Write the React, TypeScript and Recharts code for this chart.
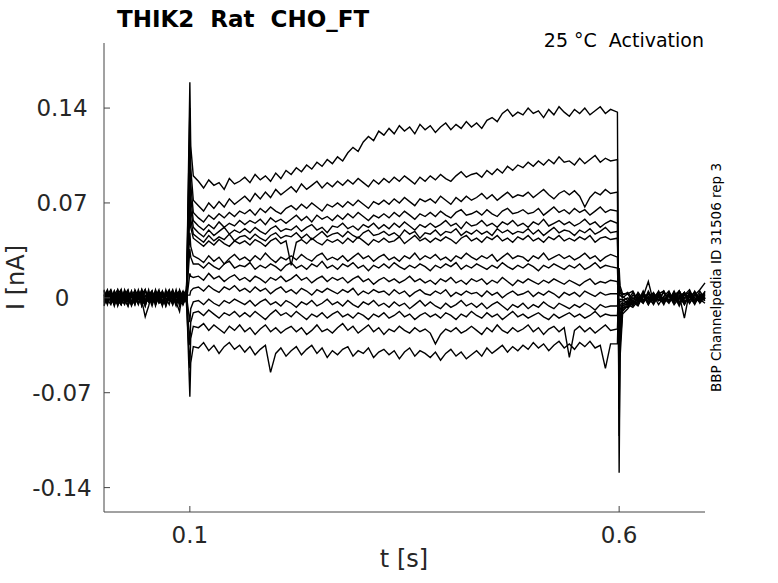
import { LineChart, Line, XAxis, YAxis } from 'recharts';

// sample times [s]
const timeS = [
  0, 0.004, 0.008, 0.012, 0.016, 0.02, 0.024, 0.028, 0.032, 0.036, 0.04, 0.044, 0.048,
  0.052, 0.056, 0.06, 0.064, 0.068, 0.072, 0.076, 0.08, 0.084, 0.088, 0.092, 0.096,
  0.1, 0.101, 0.104,
  0.11, 0.116, 0.122, 0.128, 0.134, 0.14, 0.146, 0.152, 0.158,
  0.164, 0.17, 0.176, 0.182, 0.188, 0.194, 0.2, 0.206, 0.212,
  0.218, 0.224, 0.23, 0.236, 0.242, 0.248, 0.254, 0.26, 0.266,
  0.272, 0.278, 0.284, 0.29, 0.296, 0.302, 0.308, 0.314, 0.32,
  0.326, 0.332, 0.338, 0.344, 0.35, 0.356, 0.362, 0.368, 0.374,
  0.38, 0.386, 0.392, 0.398, 0.404, 0.41, 0.416, 0.422, 0.428,
  0.434, 0.44, 0.446, 0.452, 0.458, 0.464, 0.47, 0.476, 0.482,
  0.488, 0.494, 0.5, 0.506, 0.512, 0.518, 0.524, 0.53, 0.536,
  0.542, 0.548, 0.554, 0.56, 0.566, 0.572, 0.578, 0.584, 0.59,
  0.598, 0.6, 0.601, 0.604,
  0.61, 0.616, 0.622, 0.628, 0.634, 0.64, 0.646, 0.652,
  0.658, 0.664, 0.67, 0.676, 0.682, 0.688, 0.694, 0.7,
];

// currents in pA, one array per sweep:
// baseline (25) | onset (3) | step (81) | 0.598 + offset (4) | baseline (16)
const sweep01 = [
  3, -4, 5, -2, 1, -5, 2, 6, -3, 0, 4, -6, 2, -1, 5, -3, 1, -4, 6, -2, 3, -5, 0, 4, -1,
  159, 112, 90,
  86, 81, 87, 83, 85, 80, 88, 84, 86,
  89, 85, 91, 87, 90, 86, 92, 88, 94,
  91, 96, 93, 98, 95, 100, 97, 102, 99,
  104, 101, 107, 111, 108, 115, 119, 116, 123,
  120, 125, 121, 127, 123, 126, 121, 128, 124,
  127, 122, 126, 129, 124, 128, 125, 130, 126,
  129, 125, 131, 133, 130, 136, 139, 134, 137,
  135, 140, 136, 138, 133, 139, 135, 141, 137,
  134, 139, 136, 140, 135, 138, 141, 136, 139,
  137, -129, -45, -12,
  -8, -3, -6, 2, -4, 1, -2, 5, -3, 3, -1, 4, -4, 2, 6, 11,
];
const sweep02 = [
  -3, 5, -1, 4, -6, 2, -2, 5, -4, 1, -5, 3, 6, -2, 0, 4, -3, 2, -6, 5, -1, 3, -4, 1, 2,
  140, 96, 72,
  68, 64, 70, 66, 71, 67, 73, 69, 72,
  75, 71, 77, 73, 78, 74, 80, 76, 79,
  82, 78, 84, 80, 83, 86, 81, 85, 82,
  86, 83, 87, 84, 88, 85, 82, 87, 84,
  88, 85, 89, 86, 90, 87, 84, 89, 86,
  90, 87, 91, 88, 86, 90, 93, 89, 91,
  92, 89, 94, 91, 95, 92, 97, 94, 98,
  96, 100, 97, 101, 98, 102, 99, 104, 100,
  101, 98, 103, 99, 102, 105, 100, 103, 101,
  102, -102, -36, -10,
  -6, -2, -5, 3, -3, 0, 4, -2, 2, -4, 5, -1, 3, -3, 1, 4,
];
const sweep03 = [
  5, -2, 0, -5, 3, 6, -4, 1, -3, 4, -1, 2, -6, 3, 5, -2, 0, 4, -5, 1, 6, -3, 2, -4, 0,
  122, 84, 63,
  59, 56, 61, 58, 62, 59, 63, 60, 64,
  62, 65, 61, 66, 63, 67, 64, 62, 66,
  68, 65, 69, 66, 70, 67, 64, 69, 67,
  70, 67, 71, 68, 72, 69, 66, 71, 69,
  72, 69, 73, 70, 74, 71, 68, 73, 71,
  73, 70, 75, 72, 69, 74, 71, 75, 72,
  74, 77, 73, 76, 72, 75, 78, 74, 76,
  75, 78, 74, 77, 80, 76, 73, 77, 79,
  76, 79, 75, 67, 74, 78, 76, 80, 77,
  78, -82, -29, -9,
  -5, -7, -2, 1, 12, -3, 2, -4, 3, -1, 5, -3, 1, 4, -2, 0,
];
const sweep04 = [
  -5, 1, 4, -3, 6, -1, 2, -6, 3, -2, 5, 0, -4, 4, -3, 1, 6, -5, 2, -1, -4, 3, 5, -2, 1,
  104, 74, 57,
  53, 50, 54, 51, 56, 52, 55, 53, 57,
  54, 57, 55, 58, 54, 59, 56, 58, 55,
  58, 61, 57, 60, 56, 61, 58, 60, 57,
  61, 58, 62, 59, 63, 60, 57, 61, 59,
  62, 59, 63, 60, 64, 61, 58, 62, 60,
  63, 60, 64, 61, 59, 63, 65, 61, 62,
  64, 61, 65, 62, 60, 64, 66, 62, 63,
  65, 62, 63, 66, 61, 64, 67, 63, 65,
  62, 66, 63, 65, 61, 64, 67, 63, 65,
  64, -66, -24, -8,
  -3, -6, 1, -4, 3, -1, 5, -3, 2, -5, 0, 4, -2, 3, -4, 1,
];
const sweep05 = [
  1, 6, -3, 2, -5, 4, -1, 3, -6, 0, 2, -4, 5, 1, -3, 6, -2, -5, 3, 0, 1, -6, 4, -2, 5,
  90, 66, 52,
  48, 45, 50, 46, 49, 52, 47, 50, 48,
  51, 48, 52, 49, 47, 51, 53, 49, 51,
  50, 53, 49, 52, 54, 50, 52, 48, 53,
  52, 55, 51, 53, 50, 54, 52, 55, 51,
  54, 51, 55, 52, 56, 53, 50, 54, 52,
  55, 52, 54, 57, 53, 55, 51, 56, 53,
  54, 57, 53, 55, 52, 56, 54, 57, 53,
  55, 52, 56, 54, 58, 53, 55, 57, 54,
  56, 53, 55, 58, 54, 56, 52, 55, 57,
  55, -54, -20, -7,
  -7, -2, -4, 3, -5, 1, -2, 4, -3, 2, -6, 3, 0, -2, 5, -1,
];
const sweep06 = [
  -1, -4, 3, -6, 2, 0, 5, -3, 1, -5, 4, 2, -2, 6, -4, -1, 3, -3, 5, 1, -5, 2, -1, 4, -3,
  76, 58, 47,
  44, 41, 46, 42, 45, 43, 47, 42, 45,
  46, 43, 47, 44, 42, 46, 48, 44, 46,
  45, 48, 44, 47, 43, 46, 49, 45, 47,
  48, 45, 49, 46, 44, 48, 50, 46, 47,
  49, 46, 48, 45, 50, 47, 49, 44, 48,
  47, 50, 46, 49, 48, 51, 46, 49, 47,
  50, 47, 49, 46, 51, 48, 50, 47, 49,
  48, 51, 47, 50, 46, 49, 52, 48, 50,
  49, 46, 50, 48, 51, 47, 49, 52, 48,
  49, -44, -16, -6,
  -4, -5, 0, -3, 4, -2, 2, -5, 3, -1, 5, -3, 1, -4, 2, 0,
];
const sweep07 = [
  4, -1, -5, 2, 6, -3, 1, -2, 5, -4, 0, 3, -6, 2, 4, -5, 1, 5, -3, -1, 2, -4, 6, 0, -2,
  62, 52, 44,
  41, 38, 42, 39, 43, 40, 38, 42, 40,
  42, 39, 43, 41, 38, 42, 44, 40, 42,
  24, 41, 43, 40, 44, 41, 39, 43, 41,
  43, 40, 44, 41, 45, 42, 39, 43, 41,
  44, 41, 42, 45, 40, 43, 46, 42, 44,
  41, 44, 42, 45, 43, 40, 44, 46, 42,
  44, 41, 45, 43, 46, 42, 44, 41, 45,
  43, 46, 42, 44, 41, 45, 43, 46, 42,
  44, 42, 45, 43, 46, 41, 44, 45, 43,
  44, -36, -13, -5,
  -2, -4, -1, 2, -5, 3, -2, 1, 5, -3, 0, 4, -4, 2, -1, 3,
];
const sweep08 = [
  -2, 3, 1, -5, 4, -4, 6, 0, -3, 2, -1, 5, -4, 1, -6, 3, -2, 4, 0, -5, 5, -1, -3, 2, 6,
  48, 38, 31,
  29, 26, 31, 27, 30, 25, 29, 32, 28,
  30, 27, 31, 28, 33, 29, 26, 30, 28,
  31, 28, 32, 29, 27, 31, 33, 28, 30,
  28, 31, 27, 30, 33, 29, 31, 27, 30,
  32, 28, 30, 27, 31, 29, 33, 28, 31,
  29, 32, 28, 30, 27, 31, 29, 33, 30,
  28, 31, 29, 32, 27, 30, 33, 29, 31,
  30, 27, 31, 29, 33, 28, 30, 32, 29,
  31, 28, 30, 33, 29, 31, 27, 30, 32,
  30, -24, -9, -4,
  -5, 0, -3, 4, -1, -4, 3, 5, -2, 1, -5, 2, 4, -3, 0, -2,
];
const sweep09 = [
  2, -5, 4, 0, -3, 5, -2, -6, 3, 1, -4, 6, -1, -3, 2, 0, 4, -5, 1, 5, -2, 3, -6, 2, -1,
  36, 30, 25,
  25, 22, 26, 23, 21, 25, 27, 22, 24,
  23, 26, 21, 24, 22, 25, 23, 20, 24,
  26, 22, 24, 21, 25, 23, 27, 22, 24,
  21, 25, 23, 26, 22, 24, 20, 24, 22,
  25, 22, 26, 23, 21, 24, 22, 25, 23,
  20, 24, 22, 25, 23, 26, 21, 24, 22,
  25, 23, 21, 24, 22, 26, 23, 21, 24,
  22, 25, 23, 20, 24, 22, 25, 23, 21,
  24, 22, 25, 21, 23, 26, 22, 24, 23,
  22, -17, -6, -3,
  -3, -5, 2, -2, 3, -3, 1, -4, 4, -2, 2, -15, 5, -3, 1, -2,
];
const sweep10 = [
  0, 4, -3, 5, -1, -5, 2, 3, -4, 6, 1, -2, -5, 4, 0, -3, 5, 2, -6, 1, 3, -4, 0, 5, -3,
  18, 16, 15,
  16, 13, 18, 14, 16, 12, 15, 17, 13,
  15, 12, 16, 14, 11, 15, 13, 16, 12,
  14, 17, 13, 15, 11, 14, 16, 12, 15,
  13, 15, 11, 14, 16, 12, 14, 10, 13,
  15, 12, 14, 11, 13, 16, 12, 14, 11,
  13, 10, 14, 12, 15, 11, 13, 10, 14,
  12, 14, 10, 13, 11, 15, 12, 9, 13,
  11, 14, 12, 10, 13, 11, 14, 12, 10,
  13, 11, 9, 12, 14, 10, 12, 11, 13,
  12, -9, -3, -2,
  0, -3, -5, 3, -1, 4, -2, 0, -4, 2, 5, -3, 1, -5, 3, -1,
];
const sweep11 = [
  -4, 2, 6, -1, -5, 3, 0, -3, 5, -2, 4, -6, 1, 3, -1, 5, -4, -2, 2, 6, -3, 0, 4, -5, 2,
  2, 5, 7,
  8, 5, 9, 6, 4, 8, 6, 9, 5,
  7, 4, 8, 5, 7, 3, 6, 8, 4,
  6, 3, 7, 5, 2, 6, 4, 7, 5,
  3, 6, 4, 7, 2, 5, 3, 6, 4,
  5, 2, 6, 3, 5, 1, 4, 6, 3,
  2, 5, 3, 6, 1, 4, 2, 5, 3,
  4, 1, 5, 2, 4, 0, 3, 5, 2,
  3, 5, 1, 4, 2, 5, 3, 0, 4,
  2, 4, 1, 5, 3, 1, 4, 2, 3,
  3, -3, -1, -1,
  -4, 2, -1, -4, 5, -2, 1, -3, 3, -1, -4, 2, 6, -2, 0, 4,
];
const sweep12 = [
  6, -3, 1, 4, -2, -5, 3, -1, 2, 5, -4, 0, 6, -3, 1, -2, 4, -6, 3, -1, 5, 1, -3, -5, 2,
  -18, -8, -3,
  -2, -5, -1, -4, -6, -2, -4, -1, -3,
  -5, -2, -6, -3, -1, -5, -3, -6, -2,
  -4, -7, -3, -5, -2, -6, -4, -1, -5,
  -3, -6, -2, -5, -7, -3, -5, -2, -6,
  -4, -7, -3, -6, -4, -8, -5, -2, -6,
  -3, -6, -8, -4, -7, -5, -2, -6, -4,
  -7, -4, -8, -5, -3, -6, -9, -5, -7,
  -4, -8, -5, -7, -3, -6, -8, -4, -6,
  -8, -5, -7, -4, -6, -9, -5, -7, -6,
  -6, 4, 2, 0,
  3, -3, 4, -1, -3, 2, -5, 1, -2, 5, -3, 0, 3, -4, 2, -1,
];
const sweep13 = [
  -6, 2, -1, 5, -4, 1, 4, -2, -5, 3, 0, 6, -3, 2, -4, 5, -1, 1, -5, 4, -2, 6, -3, 0, 3,
  -35, -18, -11,
  -10, -13, -9, -12, -15, -11, -13, -10, -14,
  -11, -14, -10, -13, -16, -12, -9, -13, -11,
  -14, -10, -13, -16, -12, -14, -11, -15, -12,
  -10, -14, -12, -15, -11, -13, -16, -12, -14,
  -11, -15, -13, -10, -14, -12, -16, -13, -11,
  -14, -12, -15, -11, -13, -16, -12, -14, -10,
  -13, -15, -11, -14, -12, -16, -13, -10, -14,
  -12, -15, -13, -11, -14, -16, -12, -15, -13,
  -11, -14, -12, -15, -13, -10, -14, -12, -13,
  -13, 9, 4, 1,
  -2, 4, -3, 5, -4, -1, 3, -2, 1, -3, 4, -5, 2, 0, -3, 5,
];
const sweep14 = [
  1, -2, 5, -4, 3, -1, -5, 4, 2, -3, 6, -1, -4, 1, 5, -6, 2, -3, 3, -2, 4, -3, -10, 5, -4,
  -52, -30, -21,
  -22, -19, -24, -20, -23, -26, -21, -24, -20,
  -25, -22, -27, -23, -20, -25, -22, -26, -23,
  -21, -25, -22, -27, -24, -20, -25, -23, -26,
  -22, -19, -24, -21, -26, -23, -20, -25, -22,
  -27, -23, -25, -21, -24, -26, -22, -25, -23,
  -26, -34, -27, -23, -25, -22, -26, -24, -21,
  -24, -27, -22, -25, -20, -24, -26, -22, -25,
  -23, -20, -25, -22, -27, -23, -21, -25, -22,
  -44, -24, -21, -25, -22, -26, -23, -20, -24,
  -23, 15, 6, 2,
  4, -1, 3, -3, 1, -5, 2, -1, -3, 4, -4, 3, -2, 5, -1, -4,
];
const sweep15 = [
  -1, 5, -3, 0, -2, 6, -4, 2, 1, -5, 3, -2, -14, -6, 4, 0, -3, 5, -1, 2, -5, 4, 1, -3, 3,
  -73, -48, -36,
  -37, -33, -39, -35, -41, -36, -33, -38, -35,
  -40, -36, -42, -38, -35, -55, -41, -37, -43,
  -39, -36, -42, -38, -35, -41, -37, -44, -39,
  -42, -38, -36, -43, -39, -41, -37, -44, -40,
  -38, -42, -39, -45, -40, -37, -43, -39, -41,
  -44, -40, -46, -41, -38, -43, -40, -45, -42,
  -39, -43, -37, -41, -38, -35, -40, -36, -39,
  -35, -38, -33, -37, -34, -39, -35, -32, -37,
  -34, -38, -33, -36, -32, -37, -35, -52, -34,
  -34, 22, 9, 3,
  3, 5, -2, 1, -3, 3, -1, -4, 4, -2, 1, -5, 3, 0, -3, 2,
];

const sweeps = [
  sweep01, sweep02, sweep03, sweep04, sweep05, sweep06, sweep07, sweep08,
  sweep09, sweep10, sweep11, sweep12, sweep13, sweep14, sweep15,
];

const xTicks = [0.1, 0.6];
const yTicks = [-0.14, -0.07, 0, 0.07, 0.14];

const rows = timeS.map((t, i) => {
  const row: Record<string, number> = { t };
  sweeps.forEach((s, k) => {
    row['s' + k] = s[i] / 1000; // pA -> nA
  });
  return row;
});

const FONT = '"DejaVu Sans", sans-serif';
const INK = '#262626';

const renderXTick = (props: any) => (
  <text x={props.x} y={543} textAnchor="middle" fontSize={23} fill={INK} fontFamily={FONT}>
    {props.payload.value}
  </text>
);

const renderYTick = (props: any) => (
  <text x={62} y={props.y} textAnchor="middle" dominantBaseline="central" fontSize={23} fill={INK} fontFamily={FONT}>
    {props.payload.value === 0 ? '0' : String(props.payload.value)}
  </text>
);

export default function App() {
  return (
    <div style={{ position: 'absolute', left: 0, top: 0, width: 778, height: 583, background: '#fff' }}>
      <LineChart width={778} height={583} data={rows} margin={{ top: 43, right: 73, bottom: 70, left: 103 }}>
        <XAxis
          dataKey="t"
          type="number"
          domain={[0, 0.7]}
          ticks={xTicks}
          height={1}
          tickSize={-6}
          tick={renderXTick}
          axisLine={{ stroke: '#444' }}
          tickLine={{ stroke: '#444' }}
        />
        <YAxis
          type="number"
          domain={[-0.158, 0.188]}
          ticks={yTicks}
          width={1}
          tickSize={-6}
          tick={renderYTick}
          axisLine={{ stroke: '#444' }}
          tickLine={{ stroke: '#444' }}
        />
        {sweeps.map((_, k) => (
          <Line
            key={k}
            dataKey={'s' + k}
            type="linear"
            stroke="#000"
            strokeWidth={1.4}
            dot={false}
            isAnimationActive={false}
          />
        ))}
      </LineChart>
      <svg width={778} height={583} style={{ position: 'absolute', left: 0, top: 0, pointerEvents: 'none' }}>
        <text x={117} y={27} fontSize={23} fontWeight="bold" fontFamily={FONT} fill="#000" style={{ whiteSpace: 'pre' }}>
          {'THIK2  Rat  CHO_FT'}
        </text>
        <text x={704} y={47} fontSize={19} textAnchor="end" fontFamily={FONT} fill="#000" style={{ whiteSpace: 'pre' }}>
          {'25 °C  Activation'}
        </text>
        <text x={404} y={567} fontSize={24} textAnchor="middle" fontFamily={FONT} fill={INK}>
          t [s]
        </text>
        <text x={24} y={277.5} fontSize={24} textAnchor="middle" fontFamily={FONT} fill={INK} transform="rotate(-90 24 277.5)">
          I [nA]
        </text>
        <text x={720.5} y={277.5} fontSize={13.5} textAnchor="middle" fontFamily={FONT} fill="#000" transform="rotate(-90 720.5 277.5)">
          BBP Channelpedia ID 31506 rep 3
        </text>
      </svg>
    </div>
  );
}
